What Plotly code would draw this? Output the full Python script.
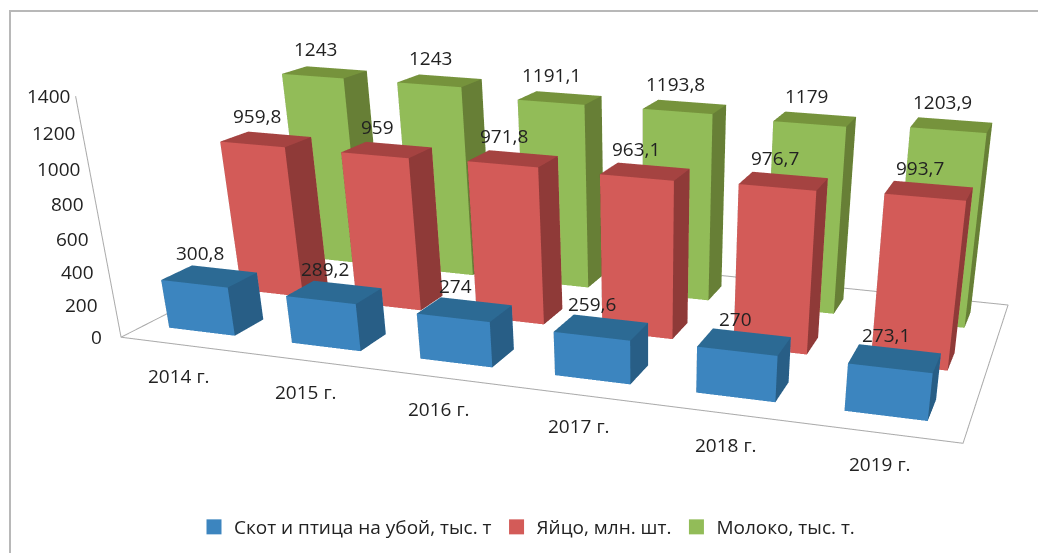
import plotly.graph_objects as go

years = ["2014 г.", "2015 г.", "2016 г.", "2017 г.", "2018 г.", "2019 г."]
series = ["Скот и птица на убой, тыс. т", "Яйцо, млн. шт.", "Молоко, тыс. т."]
meat = [300.8, 289.2, 274, 259.6, 270, 273.1]
eggs = [959.8, 959, 971.8, 963.1, 976.7, 993.7]
milk = [1243, 1243, 1191.1, 1193.8, 1179, 1203.9]
labels = [["300,8", "289,2", "274", "259,6", "270", "273,1"],
          ["959,8", "959", "971,8", "963,1", "976,7", "993,7"],
          ["1243", "1243", "1191,1", "1193,8", "1179", "1203,9"]]
zticks = [0, 200, 400, 600, 800, 1000, 1200, 1400]
top = ["#2c6a94", "#a54341", "#76933c"]
front = ["#3c85bf", "#d35b58", "#92bc58"]
side = ["#285e86", "#8f3a38", "#677f36"]
XC, WX, WY = 0.47, 0.27, 0.20
PW, PH = 1384, 1184
TXT = dict(size=19, color="#222", family="Open Sans")

fig = go.Figure()
notes = []
for s, vals in enumerate([meat, eggs, milk]):
    xs, ys, zs, ii, jj, kk, fc = [], [], [], [], [], [], []
    for c, v in enumerate(vals):
        n = len(xs)
        x0, x1 = c + XC - WX, c + XC + WX
        y0, y1 = s + 0.5 - WY, s + 0.5 + WY
        for z in (0, v):
            xs += [x0, x1, x1, x0]
            ys += [y0, y0, y1, y1]
            zs += [z, z, z, z]
        faces = [((0, 1, 5), front[s]), ((0, 5, 4), front[s]),
                 ((1, 2, 6), side[s]), ((1, 6, 5), side[s]),
                 ((4, 5, 6), top[s]), ((4, 6, 7), top[s]),
                 ((3, 2, 6), front[s]), ((3, 6, 7), front[s]),
                 ((0, 3, 7), side[s]), ((0, 7, 4), side[s])]
        for (a, b, d), col in faces:
            ii.append(n + a); jj.append(n + b); kk.append(n + d); fc.append(col)
        notes.append(dict(x=c + XC, y=s + 0.5, z=v, text=labels[s][c], showarrow=False,
                          xshift=-9, yshift=23, font=TXT))
    fig.add_trace(go.Mesh3d(x=xs, y=ys, z=zs, i=ii, j=jj, k=kk, facecolor=fc, flatshading=True,
                            lighting=dict(ambient=1, diffuse=0, specular=0, fresnel=0),
                            hoverinfo="skip", showlegend=False))
    fig.add_trace(go.Scatter(x=[None], y=[None], mode="markers", name=series[s],
                             marker=dict(symbol="square", size=15, color=front[s])))

for t in zticks:
    notes.append(dict(x=0, y=0, z=t, text=str(t), showarrow=False, xanchor="right",
                      xshift=-17 + t / 1400 * 13, font=TXT))
for c, yr in enumerate(years):
    notes.append(dict(x=c + 0.5, y=0, z=0, text=yr, showarrow=False, xshift=-3, yshift=-31, font=TXT))

fig.add_trace(go.Scatter3d(x=[0, 6, 6, 0, 0, 0], y=[0, 0, 3, 3, 0, 0], z=[0, 0, 0, 0, 0, 1400], mode="lines",
                           line=dict(color="#aaaaaa", width=2), showlegend=False, hoverinfo="skip"))

axis = dict(title="", showgrid=False, showbackground=False, zeroline=False, showticklabels=False,
            ticks="", showspikes=False, showline=False)
fig.update_layout(
    template="none",
    width=PW, height=PH, margin=dict(l=0, r=0, t=0, b=0), paper_bgcolor="white", plot_bgcolor="white",
    font=dict(family="Open Sans", size=18, color="#222"),
    xaxis=dict(visible=False), yaxis=dict(visible=False),
    legend=dict(orientation="h", x=186 / PW, xanchor="left", y=1 - 519 / PH, yanchor="middle",
                bgcolor="rgba(0,0,0,0)", font=dict(size=19)),
    scene=dict(
        domain=dict(x=[0, 1], y=[0, 1]),
        xaxis=dict(range=[0, 6], **axis),
        yaxis=dict(range=[0, 3], **axis),
        zaxis=dict(range=[0, 1400], **axis),
        aspectmode="manual", aspectratio=dict(x=1.1742, y=0.565, z=0.3232),
        annotations=notes,
        camera=dict(eye=dict(x=0.712, y=-1.9078, z=0.5184), center=dict(x=0.1832, y=0, z=-0.602),
                    up=dict(x=-0.1519, y=0.4689, z=0.87), projection=dict(type="perspective")),
    ),
)
fig.add_shape(type="rect", xref="paper", yref="paper", x0=2 / PW, x1=1.1, y0=-0.1, y1=1 - 3 / PH,
              line=dict(color="#b8b8b8", width=2))
fig.write_html("out.html")
